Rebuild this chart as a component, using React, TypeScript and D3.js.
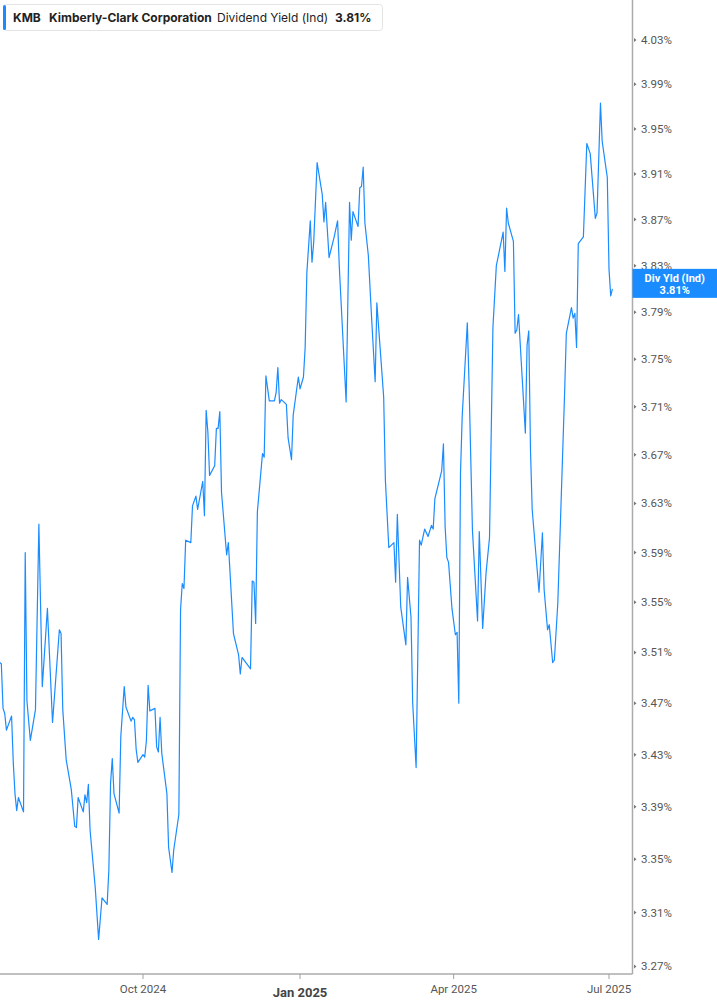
import { line, scaleLog, scaleTime, utcParse, curveLinear } from "d3";

const ticker = "KMB";
const company = "Kimberly-Clark Corporation";
const metric = "Dividend Yield (Ind)";
const shortMetric = "Div Yld (Ind)";

const dates = [
  "2024-07-09", "2024-07-10", "2024-07-11", "2024-07-12", "2024-07-13", "2024-07-16", "2024-07-17", "2024-07-18", "2024-07-19", "2024-07-20",
  "2024-07-23", "2024-07-24", "2024-07-25", "2024-07-27", "2024-07-30", "2024-08-01", "2024-08-03", "2024-08-06", "2024-08-09", "2024-08-13",
  "2024-08-14", "2024-08-15", "2024-08-17", "2024-08-20", "2024-08-22", "2024-08-23", "2024-08-24", "2024-08-27", "2024-08-28", "2024-08-29",
  "2024-08-30", "2024-08-31", "2024-09-03", "2024-09-05", "2024-09-07", "2024-09-10", "2024-09-11", "2024-09-12", "2024-09-13", "2024-09-14",
  "2024-09-17", "2024-09-18", "2024-09-20", "2024-09-21", "2024-09-24", "2024-09-25", "2024-09-26", "2024-09-27", "2024-09-28", "2024-10-01",
  "2024-10-02", "2024-10-03", "2024-10-04", "2024-10-05", "2024-10-08", "2024-10-09", "2024-10-10", "2024-10-11", "2024-10-12", "2024-10-15",
  "2024-10-16", "2024-10-18", "2024-10-19", "2024-10-22", "2024-10-23", "2024-10-24", "2024-10-25", "2024-10-26", "2024-10-29", "2024-10-30",
  "2024-11-01", "2024-11-02", "2024-11-05", "2024-11-06", "2024-11-07", "2024-11-08", "2024-11-09", "2024-11-12", "2024-11-13", "2024-11-14",
  "2024-11-15", "2024-11-16", "2024-11-19", "2024-11-20", "2024-11-23", "2024-11-26", "2024-11-27", "2024-11-28", "2024-12-03", "2024-12-04",
  "2024-12-05", "2024-12-06", "2024-12-07", "2024-12-10", "2024-12-11", "2024-12-12", "2024-12-14", "2024-12-17", "2024-12-18", "2024-12-19",
  "2024-12-20", "2024-12-21", "2024-12-24", "2024-12-25", "2024-12-27", "2024-12-28", "2024-12-31", "2025-01-01", "2025-01-03", "2025-01-04",
  "2025-01-05", "2025-01-07", "2025-01-08", "2025-01-09", "2025-01-11", "2025-01-14", "2025-01-15", "2025-01-16", "2025-01-18", "2025-01-21",
  "2025-01-23", "2025-01-24", "2025-01-28", "2025-01-30", "2025-01-31", "2025-02-01", "2025-02-04", "2025-02-05", "2025-02-06", "2025-02-07",
  "2025-02-08", "2025-02-10", "2025-02-12", "2025-02-14", "2025-02-15", "2025-02-19", "2025-02-20", "2025-02-22", "2025-02-25", "2025-02-26",
  "2025-02-27", "2025-03-01", "2025-03-04", "2025-03-05", "2025-03-07", "2025-03-08", "2025-03-10", "2025-03-12", "2025-03-13", "2025-03-15",
  "2025-03-17", "2025-03-19", "2025-03-20", "2025-03-21", "2025-03-25", "2025-03-26", "2025-03-27", "2025-03-28", "2025-03-29", "2025-03-31",
  "2025-04-02", "2025-04-03", "2025-04-04", "2025-04-05", "2025-04-06", "2025-04-09", "2025-04-10", "2025-04-12", "2025-04-15", "2025-04-16",
  "2025-04-18", "2025-04-20", "2025-04-22", "2025-04-24", "2025-04-26", "2025-04-30", "2025-05-01", "2025-05-02", "2025-05-03", "2025-05-06",
  "2025-05-07", "2025-05-08", "2025-05-09", "2025-05-13", "2025-05-14", "2025-05-15", "2025-05-16", "2025-05-17", "2025-05-21", "2025-05-23",
  "2025-05-24", "2025-05-26", "2025-05-27", "2025-05-29", "2025-05-30", "2025-06-01", "2025-06-03", "2025-06-05", "2025-06-06", "2025-06-09",
  "2025-06-10", "2025-06-11", "2025-06-12", "2025-06-13", "2025-06-16", "2025-06-18", "2025-06-20", "2025-06-23", "2025-06-24", "2025-06-26",
  "2025-06-27", "2025-06-30", "2025-07-01", "2025-07-02", "2025-07-03",
];

const yields = [
  3.502, 3.501, 3.466, 3.462, 3.449, 3.460, 3.424, 3.400, 3.387, 3.397,
  3.386, 3.590, 3.472, 3.441, 3.465, 3.613, 3.483, 3.545, 3.455, 3.528,
  3.525, 3.465, 3.426, 3.403, 3.375, 3.374, 3.397, 3.386, 3.399, 3.393,
  3.407, 3.372, 3.329, 3.290, 3.321, 3.316, 3.342, 3.408, 3.427, 3.400,
  3.385, 3.444, 3.483, 3.467, 3.456, 3.459, 3.457, 3.434, 3.424, 3.430,
  3.428, 3.441, 3.484, 3.464, 3.466, 3.436, 3.432, 3.459, 3.431, 3.400,
  3.359, 3.340, 3.357, 3.384, 3.544, 3.565, 3.561, 3.600, 3.598, 3.628,
  3.636, 3.625, 3.648, 3.620, 3.707, 3.689, 3.653, 3.661, 3.692, 3.692,
  3.706, 3.639, 3.588, 3.598, 3.525, 3.508, 3.493, 3.506, 3.497, 3.567,
  3.566, 3.533, 3.623, 3.671, 3.668, 3.736, 3.715, 3.715, 3.722, 3.743,
  3.713, 3.716, 3.712, 3.684, 3.666, 3.703, 3.735, 3.725, 3.735, 3.760,
  3.824, 3.869, 3.833, 3.850, 3.920, 3.892, 3.868, 3.885, 3.837, 3.855,
  3.869, 3.829, 3.714, 3.885, 3.852, 3.877, 3.864, 3.898, 3.899, 3.916,
  3.867, 3.839, 3.783, 3.731, 3.798, 3.718, 3.649, 3.594, 3.598, 3.566,
  3.621, 3.546, 3.516, 3.570, 3.538, 3.470, 3.420, 3.600, 3.596, 3.609,
  3.603, 3.612, 3.609, 3.634, 3.657, 3.679, 3.611, 3.586, 3.582, 3.545,
  3.524, 3.526, 3.470, 3.655, 3.702, 3.781, 3.730, 3.608, 3.535, 3.607,
  3.529, 3.574, 3.602, 3.777, 3.830, 3.859, 3.825, 3.880, 3.867, 3.851,
  3.772, 3.775, 3.788, 3.688, 3.762, 3.774, 3.674, 3.625, 3.558, 3.606,
  3.560, 3.528, 3.532, 3.502, 3.504, 3.549, 3.634, 3.722, 3.772, 3.794,
  3.785, 3.789, 3.760, 3.849, 3.855, 3.937, 3.928, 3.871, 3.876, 3.973,
  3.939, 3.907, 3.827, 3.804, 3.810,
];

const yTicks = [3.27, 3.31, 3.35, 3.39, 3.43, 3.47, 3.51, 3.55, 3.59, 3.63, 3.67, 3.71, 3.75, 3.79, 3.83, 3.87, 3.91, 3.95, 3.99, 4.03];
const xTickDates = ["2024-10-01", "2025-01-01", "2025-04-01", "2025-07-01"];
const xTickLabels = ["Oct 2024", "Jan 2025", "Apr 2025", "Jul 2025"];
const xTickMajor = [false, true, false, false];

const parse = utcParse("%Y-%m-%d");

export default function App() {
  const width = 717;
  const height = 1005;
  const plotRight = 632.5;
  const plotBottom = 974;
  const blue = "#1a8cff";
  const font = "Roboto, 'Liberation Sans', sans-serif";

  // anchor the time scale on the Oct and Jul ticks; it extends linearly to the edges
  const x = scaleTime()
    .domain([parse("2024-10-01")!, parse("2025-07-01")!])
    .range([143, 609]);
  const y = scaleLog().domain([3.27, 4.03]).range([966.4, 40]);

  const points = dates.map((d, i) => ({ date: parse(d)!, value: yields[i] }));
  const path = line<{ date: Date; value: number }>()
    .x((d) => x(d.date))
    .y((d) => y(d.value))
    .curve(curveLinear)(points);

  const last = points[points.length - 1];
  const lastY = y(last.value);

  return (
    <div style={{ position: "absolute", left: 0, top: 0, width, height, background: "#fff" }}>
      <svg width={width} height={height} viewBox={`0 0 ${width} ${height}`} style={{ display: "block" }}>
        <defs>
          <clipPath id="plot-clip">
            <rect x={0} y={0} width={plotRight} height={plotBottom} />
          </clipPath>
        </defs>

        <path
          d={path ?? ""}
          fill="none"
          stroke={blue}
          strokeWidth={1.2}
          strokeLinejoin="round"
          clipPath="url(#plot-clip)"
        />

        <line x1={plotRight} x2={plotRight} y1={0} y2={plotBottom} stroke="#ababab" strokeWidth={1.5} />
        <line x1={0} x2={plotRight} y1={plotBottom} y2={plotBottom} stroke="#ababab" strokeWidth={1.5} />

        {yTicks.map((t) => (
          <g key={t}>
            <path
              d={`M${plotRight + 1.5},${y(t) - 2}L${plotRight + 4},${y(t)}L${plotRight + 1.5},${y(t) + 2}Z`}
              fill="#777"
            />
            <text
              x={641}
              y={y(t)}
              dy="0.35em"
              fontFamily={font}
              fontSize={11.5}
              fill="#555"
            >
              {t.toFixed(2)}%
            </text>
          </g>
        ))}

        {xTickDates.map((d, i) => {
          const xx = x(parse(d)!);
          return (
            <g key={d}>
              <line x1={xx} x2={xx} y1={plotBottom} y2={plotBottom + 5} stroke="#a0a0a0" strokeWidth={1} />
              <text
                x={xx}
                y={xTickMajor[i] ? 997 : 993}
                textAnchor="middle"
                fontFamily={font}
                fontSize={xTickMajor[i] ? 13 : 11.5}
                fontWeight={xTickMajor[i] ? 700 : 400}
                fill={xTickMajor[i] ? "#444" : "#555"}
              >
                {xTickLabels[i]}
              </text>
            </g>
          );
        })}

        <g>
          <rect x={plotRight} y={lastY - 20} width={width - plotRight} height={29} fill={blue} />
          <text
            x={(plotRight + width) / 2}
            y={lastY - 6.5}
            textAnchor="middle"
            fontFamily={font}
            fontSize={11}
            fontWeight={700}
            fill="#fff"
          >
            {shortMetric}
          </text>
          <text
            x={(plotRight + width) / 2}
            y={lastY + 5.5}
            textAnchor="middle"
            fontFamily={font}
            fontSize={11}
            fontWeight={700}
            fill="#fff"
          >
            {last.value.toFixed(2)}%
          </text>
        </g>

        <g fontFamily="Inter, 'Noto Sans', sans-serif" fontSize={12} fill="#222">
          <rect x={3.5} y={4.5} width={379} height={26} rx={3} fill="#fff" stroke="#e4e4e4" />
          <rect x={3} y={5} width={3} height={25} rx={1.5} fill={blue} />
          <text x={13} y={22} fontWeight={700}>{ticker}</text>
          <text x={49} y={22} fontWeight={700}>{company}</text>
          <text x={217} y={22} fontWeight={400}>{metric}</text>
          <text x={335} y={22} fontWeight={700}>{last.value.toFixed(2)}%</text>
        </g>
      </svg>
    </div>
  );
}
